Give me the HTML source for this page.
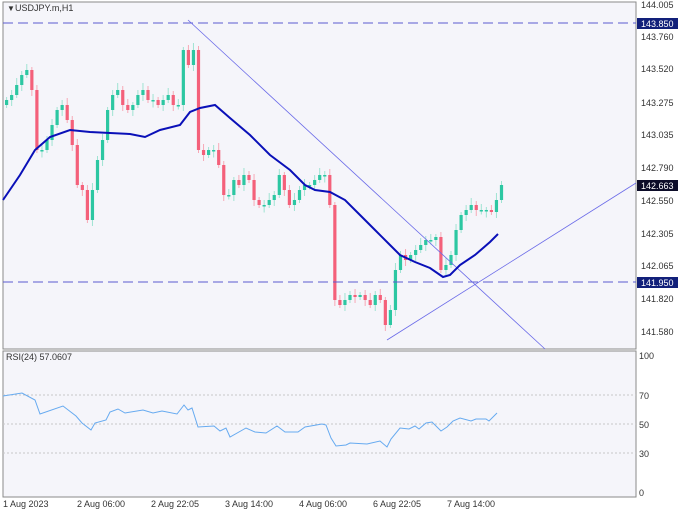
<!DOCTYPE html>
<html><head><meta charset="utf-8"><style>
body{margin:0;background:#fff;}
svg{display:block;font-family:"Liberation Sans",sans-serif;}
</style></head><body>
<svg id="s" width="678" height="512" viewBox="0 0 678 512" xmlns="http://www.w3.org/2000/svg">
<rect x="0" y="0" width="678" height="512" fill="#ffffff"/>
<rect x="3" y="2" width="633" height="347" fill="#f5f5fa" stroke="#8a8a8a" stroke-width="1"/>
<rect x="3" y="351" width="633" height="146" fill="#f5f5fa" stroke="#8a8a8a" stroke-width="1"/>
<g id="c"></g>
<line x1="3" y1="23" x2="636" y2="23" stroke="#5b5bd0" stroke-width="1" stroke-dasharray="10,5"/>
<line x1="3" y1="282" x2="636" y2="282" stroke="#5b5bd0" stroke-width="1" stroke-dasharray="10,5"/>
<line x1="188" y1="20" x2="545" y2="349" stroke="#6a6ae8" stroke-width="0.8"/>
<line x1="387" y1="340" x2="636" y2="183" stroke="#6a6ae8" stroke-width="0.8"/>
<polyline fill="none" stroke="#0a10b8" stroke-width="2" points="3,200 20,175 35,150 50,137 70,130 90,132 110,133 130,134 145,137 160,130 180,125 190,112 200,108 215,105 230,118 250,135 270,155 290,170 305,185 315,190 330,192 345,200 360,215 375,230 390,245 400,255 415,262 430,268 443,277 450,275 460,265 475,255 490,242 498,234"/>
<g font-size="9" fill="#333">
<text x="7" y="11" font-size="8">▼</text><text x="15" y="11">USDJPY.m,H1</text>
<text x="641" y="8">144.005</text><text x="641" y="40">143.760</text><text x="641" y="72">143.520</text><text x="641" y="106">143.275</text><text x="641" y="138">143.035</text><text x="641" y="171">142.790</text><text x="641" y="204">142.550</text><text x="641" y="237">142.305</text><text x="641" y="269">142.065</text><text x="641" y="302">141.820</text><text x="641" y="335">141.580</text>
<rect x="637" y="18" width="41" height="11" fill="#12207a"/><text x="641" y="27" fill="#fff">143.850</text>
<rect x="637" y="277" width="41" height="11" fill="#12207a"/><text x="641" y="286" fill="#fff">141.950</text>
<rect x="637" y="180" width="41" height="11" fill="#0c0c28"/><text x="641" y="189" fill="#fff">142.663</text>
<text x="6" y="360">RSI(24) 57.0607</text>
<text x="639" y="359">100</text><text x="639" y="399">70</text><text x="639" y="428">50</text><text x="639" y="457">30</text><text x="639" y="496">0</text>
<text x="3" y="507">1 Aug 2023</text><text x="77" y="507">2 Aug 06:00</text><text x="151" y="507">2 Aug 22:05</text><text x="225" y="507">3 Aug 14:00</text><text x="299" y="507">4 Aug 06:00</text><text x="373" y="507">6 Aug 22:05</text><text x="447" y="507">7 Aug 14:00</text>
</g>
<g stroke="#c8c8c8" stroke-dasharray="2,2" stroke-width="1">
<line x1="3" y1="395" x2="636" y2="395"/><line x1="3" y1="424" x2="636" y2="424"/><line x1="3" y1="453" x2="636" y2="453"/>
</g>
<polyline fill="none" stroke="#66aaf0" stroke-width="1" points="3,396 22,393 35,400 40,414 63,406 76,416 82,423 91,430 95,423 106,420 110,412 118,409 125,413 143,410 153,413 162,411 177,414 184,405 188,410 192,408 198,427 214,426 220,431 226,428 230,437 246,428 255,432 266,433 277,426 285,432 298,432 305,427 322,424 326,425 331,438 336,446 346,445 350,443 367,444 380,441 387,447 391,439 400,428 409,429 415,426 419,429 426,423 432,422 441,431 447,427 453,421 460,418 471,421 476,419 486,419 489,421 497,413"/>
</svg>
<script>
(function(){
var ys=[100,95,85,75,70,90,150,150,140,125,110,105,120,145,185,190,220,190,160,140,110,95,90,105,110,105,95,90,100,100,105,100,95,105,105,50,65,50,150,155,150,150,165,195,195,180,185,175,180,200,205,205,200,195,175,190,205,200,190,185,185,180,175,175,205,300,305,300,295,297,295,300,305,295,300,325,310,270,255,260,255,250,245,240,240,237,270,265,255,230,215,210,205,210,210,210,212,200,185];
var g=document.getElementById('c'),ns='http://www.w3.org/2000/svg';
function el(t,a){var e=document.createElementNS(ns,t);for(var k in a)e.setAttribute(k,a[k]);g.appendChild(e);}
var prev=105;
for(var i=0;i<ys.length;i++){
 var x=5+i*5.05,o=prev,c=ys[i];
 var up=c<=o, bt=Math.min(o,c), bb=Math.max(o,c);
 if(bb-bt<1.5){bb=bt+1.5;}
 var wt=bt-3-(i*7%5), wb=bb+3+(i*3%6);
 var col=up?'#2cc7a2':'#f4607a', wc=up?'#9fe3d2':'#f7a8b6';
 el('line',{x1:x+1.6,y1:wt,x2:x+1.6,y2:wb,stroke:wc,'stroke-width':1});
 el('rect',{x:x,y:bt,width:3.2,height:bb-bt,fill:col});
 prev=c;
}
})();
</script>
</body></html>
